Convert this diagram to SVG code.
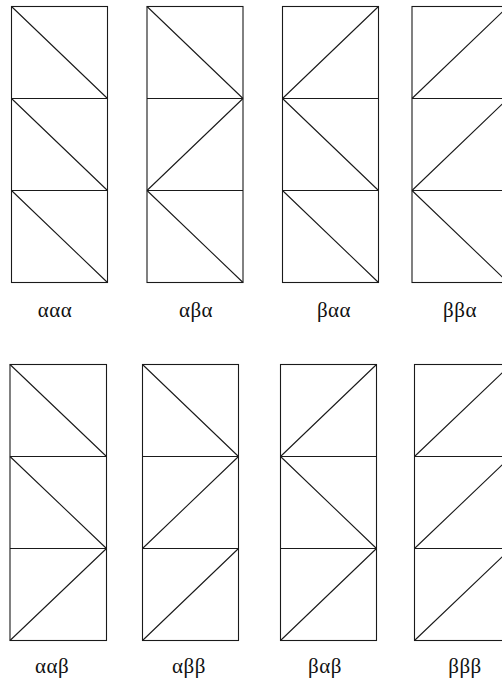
<svg xmlns="http://www.w3.org/2000/svg" width="502" height="684" viewBox="0 0 502 684">
<style>
.sq{fill:none;stroke:#1a1a1a;stroke-width:1.1}
.lbl{font-family:"Liberation Serif","DejaVu Serif",serif;font-size:21px;fill:#111;text-anchor:middle;letter-spacing:0.5px}
</style>
<rect width="502" height="684" fill="#fff"/>
<g id="p-aaa">
<rect class="sq" x="11.5" y="6.5" width="96" height="276"/>
<path class="sq" d="M11.5 98.5H107.5M11.5 190.5H107.5M11.5 6.5L107.5 98.5M11.5 98.5L107.5 190.5M11.5 190.5L107.5 282.5"/>
<text class="lbl" x="55" y="317">ααα</text>
</g>
<g id="p-aba">
<rect class="sq" x="147" y="6.5" width="96" height="276"/>
<path class="sq" d="M147 98.5H243M147 190.5H243M147 6.5L243 98.5M147 190.5L243 98.5M147 190.5L243 282.5"/>
<text class="lbl" x="196" y="317">αβα</text>
</g>
<g id="p-baa">
<rect class="sq" x="282.5" y="6.5" width="96" height="276"/>
<path class="sq" d="M282.5 98.5H378.5M282.5 190.5H378.5M282.5 98.5L378.5 6.5M282.5 98.5L378.5 190.5M282.5 190.5L378.5 282.5"/>
<text class="lbl" x="334" y="317">βαα</text>
</g>
<g id="p-bba">
<rect class="sq" x="412" y="6.5" width="96" height="276"/>
<path class="sq" d="M412 98.5H508M412 190.5H508M412 98.5L508 6.5M412 190.5L508 98.5M412 190.5L508 282.5"/>
<text class="lbl" x="460" y="317">ββα</text>
</g>
<g id="p-aab">
<rect class="sq" x="10" y="364.5" width="96.5" height="276"/>
<path class="sq" d="M10 456.5H106.5M10 548.5H106.5M10 364.5L106.5 456.5M10 456.5L106.5 548.5M10 640.5L106.5 548.5"/>
<text class="lbl" x="52" y="673">ααβ</text>
</g>
<g id="p-abb">
<rect class="sq" x="142.5" y="364.5" width="96" height="276"/>
<path class="sq" d="M142.5 456.5H238.5M142.5 548.5H238.5M142.5 364.5L238.5 456.5M142.5 548.5L238.5 456.5M142.5 640.5L238.5 548.5"/>
<text class="lbl" x="189" y="673">αββ</text>
</g>
<g id="p-bab">
<rect class="sq" x="280.5" y="364.5" width="96" height="276"/>
<path class="sq" d="M280.5 456.5H376.5M280.5 548.5H376.5M280.5 456.5L376.5 364.5M280.5 456.5L376.5 548.5M280.5 640.5L376.5 548.5"/>
<text class="lbl" x="325" y="673">βαβ</text>
</g>
<g id="p-bbb">
<rect class="sq" x="414.5" y="364.5" width="96.5" height="276"/>
<path class="sq" d="M414.5 456.5H511M414.5 548.5H511M414.5 456.5L511 364.5M414.5 548.5L511 456.5M414.5 640.5L511 548.5"/>
<text class="lbl" x="465" y="673">βββ</text>
</g>
<g id="connectors"></g>
</svg>
